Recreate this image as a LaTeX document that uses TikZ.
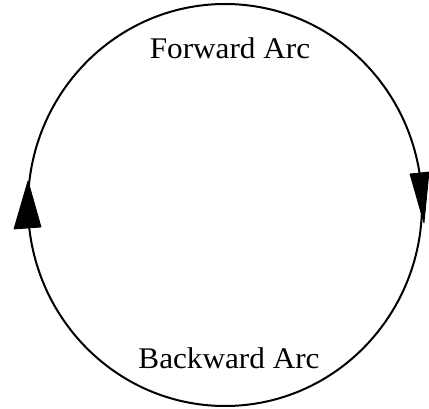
\documentclass[tikz,border=0pt]{standalone}
\usepackage{fontspec}
\setmainfont{Liberation Serif}
\begin{document}
\begin{tikzpicture}[x=1pt,y=-1pt,
  arc/.style={line width=2pt},
  head/.style={fill=black,draw=black,line width=0.8pt,line join=round},
  lbl/.style={font=\fontsize{30}{32}\selectfont,xscale=1.04,inner sep=0pt}]
\useasboundingbox (0,0) rectangle (429,409);
\draw[arc] (225,205) ellipse [x radius=197, y radius=201];
\node[lbl] (fwd) at (230,48) {Forward Arc};
\node[lbl] (bwd) at (229,358) {Backward Arc};
\fill[head] (28,181) -- (41,227) -- (14,229) -- cycle;
\fill[head] (424,223) -- (410,174) -- (429,172) -- cycle;
\end{tikzpicture}
\end{document}
